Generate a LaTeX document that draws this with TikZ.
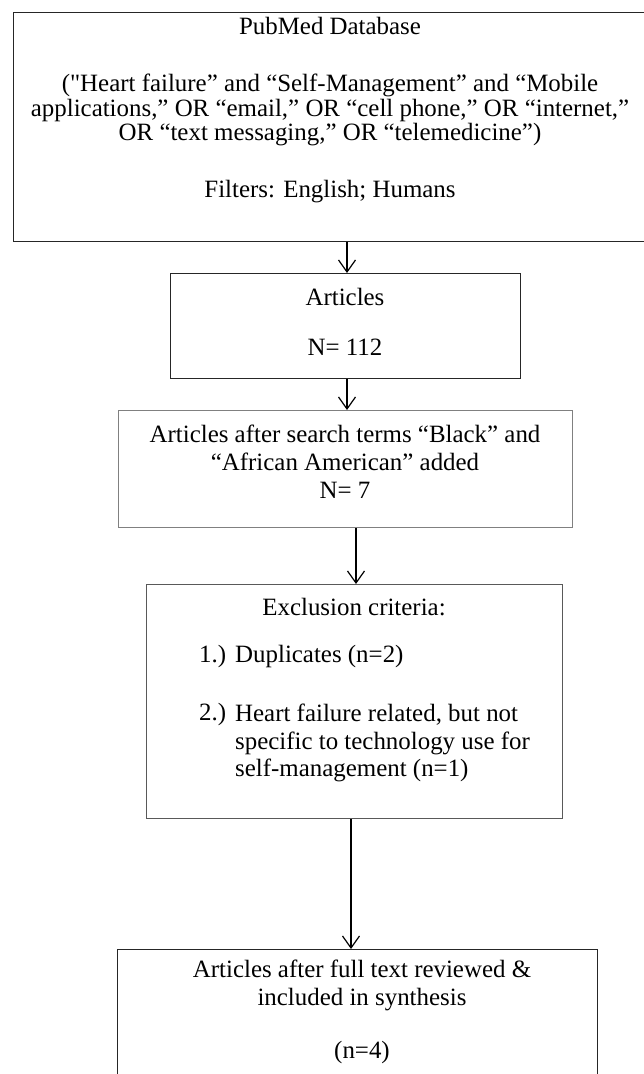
\documentclass[tikz,border=0pt]{standalone}
\usepackage{fontspec}
\setmainfont{Liberation Serif}
\usetikzlibrary{arrows.meta}

\begin{document}
\begin{tikzpicture}[x=1bp,y=-1bp,font=\fontsize{25}{28}\selectfont,
 box/.style={draw=black!85,line width=1.2bp,inner sep=0pt,anchor=north west},
 txt/.style={align=center,inner sep=0pt,anchor=center},
 arr/.style={-{Straight Barb[length=12bp,width=17bp]},line width=1.2bp}]
\useasboundingbox (0,0) rectangle (644,1074);
\node[box,minimum width=660bp,minimum height=229bp] (pubmed) at (13,12) {};
\node[txt] (pmtitle) at (330,26) {PubMed Database};
\node[txt,font=\fontsize{25}{24.5}\selectfont] (pmterms) at (330,110) {(\textquotedbl Heart failure” and “Self-Management” and “Mobile\\applications,” OR “email,” OR “cell phone,” OR “internet,”\\OR “text messaging,” OR “telemedicine”)};
\node[txt] (pmfilt) at (330,192) {Filters: English; Humans};
\node[box,minimum width=350bp,minimum height=105bp] (art) at (170,273) {};
\node[txt] (arttxt) at (345,322) {Articles\\[22bp]N= 112};
\node[box,draw=black!50,minimum width=454bp,minimum height=117bp] (search) at (118,410) {};
\node[txt] (searchtxt) at (345,462) {Articles after search terms “Black” and\\“African American” added\\N= 7};
\node[box,draw=black!65,minimum width=416bp,minimum height=234bp] (excl) at (146,584) {};
\node[txt] (crit) at (354,607) {Exclusion criteria:};
\node[txt,anchor=west] (num1) at (199,657) {1.)};
\node[txt,anchor=west] (dup) at (235,657) {Duplicates (n=2)};
\node[txt,anchor=west] (num2) at (199,715) {2.)};
\node[txt,anchor=west,align=left] (hf) at (235,743) {Heart failure related, but not\\specific to technology use for\\self-management (n=1)};
\node[box,minimum width=480bp,minimum height=160bp] (incl) at (117,949) {};
\node[txt] (incltxt) at (362,1012) {Articles after full text reviewed \&\\included in synthesis\\[25bp](n=4)};
\draw[arr] (pubmed.south -| 347,0) -- (art.north -| 347,0);
\draw[arr] (art.south -| 347,0) -- (search.north -| 347,0);
\draw[arr] (search.south -| 356,0) -- (excl.north -| 356,0);
\draw[arr] (excl.south -| 351,0) -- (incl.north -| 351,0);
\end{tikzpicture}
\end{document}
